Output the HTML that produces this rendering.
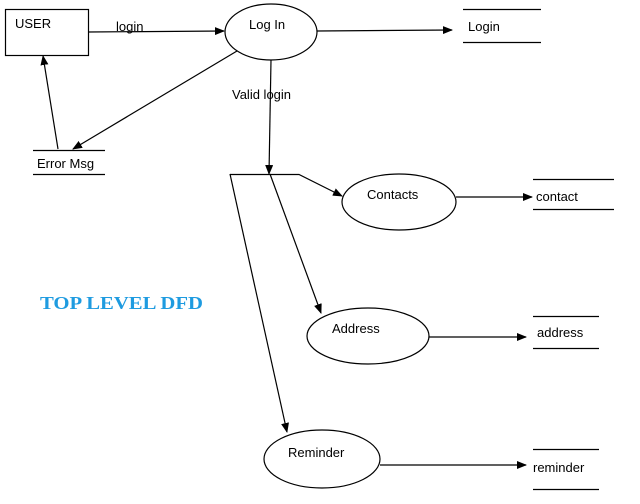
<!DOCTYPE html><html><head><style>body{margin:0;background:#fff}svg text{font-family:"Liberation Sans",sans-serif;font-size:13px;fill:#000}</style></head><body>
<svg width="640" height="499" xmlns="http://www.w3.org/2000/svg">
<defs><marker id="a" markerWidth="10" markerHeight="8" refX="9" refY="4" orient="auto" markerUnits="userSpaceOnUse"><path d="M0,0L10,4L0,8z" fill="#000"/></marker></defs>
<g stroke="#000" stroke-width="1.2" fill="none">
<rect x="5.5" y="9.5" width="83" height="46"/>
<ellipse cx="271" cy="32" rx="46" ry="28"/>
<ellipse cx="399" cy="202" rx="57" ry="28"/>
<ellipse cx="368" cy="336" rx="61" ry="28"/>
<ellipse cx="322" cy="459" rx="58" ry="29"/>
<path d="M463 9.5H541M463 42.5H541M33 150.5H105M33 174.5H105M533 179.5H614M533 209.5H614M533 316.5H599M533 348.5H599M533 449.5H599M533 489.5H599"/>
<path d="M88 32L224 31" marker-end="url(#a)"/>
<path d="M317 31L452 30" marker-end="url(#a)"/>
<path d="M237 51L73 149" marker-end="url(#a)"/>
<path d="M58 149L43 56" marker-end="url(#a)"/>
<path d="M271 60L269 174" marker-end="url(#a)"/>
<path d="M230 174.5H299L342 196" marker-end="url(#a)"/>
<path d="M230 174L287 432" marker-end="url(#a)"/>
<path d="M270 174L321 313" marker-end="url(#a)"/>
<path d="M456 197H532" marker-end="url(#a)"/>
<path d="M429 337H526" marker-end="url(#a)"/>
<path d="M380 465H526" marker-end="url(#a)"/>
</g>
<text x="15" y="28">USER</text>
<text x="116" y="31">login</text>
<text x="249" y="29">Log In</text>
<text x="468" y="31">Login</text>
<text x="232" y="99">Valid login</text>
<text x="37" y="168">Error Msg</text>
<text x="367" y="199">Contacts</text>
<text x="536" y="201">contact</text>
<text x="332" y="333">Address</text>
<text x="537" y="337">address</text>
<text x="288" y="457">Reminder</text>
<text x="533" y="472">reminder</text>
<text x="40" y="309" textLength="163" lengthAdjust="spacingAndGlyphs" style="font-family:'Liberation Serif',serif;font-weight:bold;font-size:18px;fill:#1e9be0">TOP LEVEL DFD</text>
</svg></body></html>
